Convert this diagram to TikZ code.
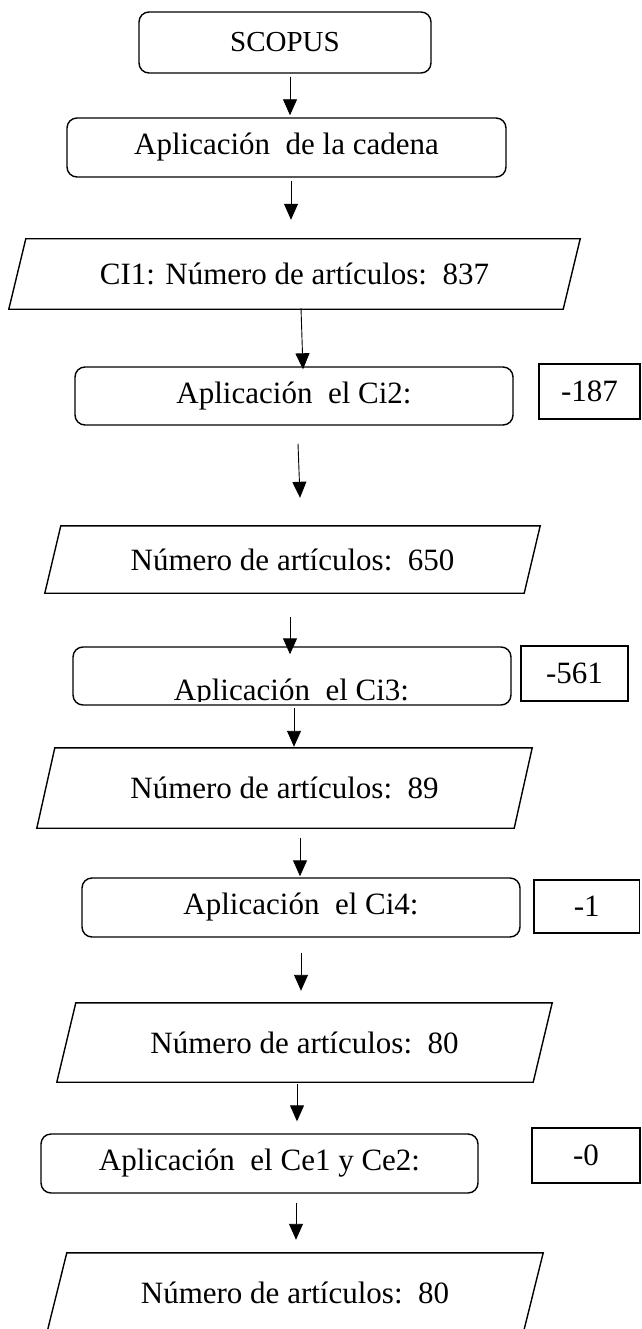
\documentclass[tikz,border=0pt]{standalone}
\usepackage{fontspec}
\setmainfont{Liberation Serif}
\usetikzlibrary{arrows.meta}
\begin{document}
\begin{tikzpicture}[x=1pt,y=-1pt,
  txt/.style={font=\fontsize{31}{37}\selectfont},
  rbox/.style={draw, line width=1.4pt, rounded corners=10pt, inner sep=0pt, txt},
  sbox/.style={draw, line width=1.4pt, inner sep=0pt, txt},
  pbox/.style={inner sep=0pt, txt},
  pline/.style={line width=1.4pt, line join=miter},
  arr/.style={line width=0.9pt, -{Triangle[length=16pt,width=14pt]}}]
\useasboundingbox (0,0) rectangle (641,1329);
\clip (0,0) rectangle (641,1329);

% main column
\node[rbox, minimum width=292pt, minimum height=61pt, font=\fontsize{29}{35}\selectfont] (scopus) at (285,42.5) {SCOPUS};
\node[rbox, minimum width=439pt, minimum height=59pt] (cad) at (286.5,147.5) {Aplicación\ \ de la cadena};

\node[pbox, minimum width=571pt, minimum height=70pt] (p1) at (294.5,274) {CI1: Número de artículos:\ \ 837};
\draw[pline] ([xshift=17pt]p1.north west) -- (p1.north east) -- ([xshift=-17pt]p1.south east) -- (p1.south west) -- cycle;

\node[rbox, minimum width=438pt, minimum height=58pt] (ci2) at (294,396) {Aplicación\ \ el Ci2:};
\node[sbox, minimum width=101pt, minimum height=55pt] (m187) at (589.5,391.5) {-187};

\node[pbox, minimum width=495pt, minimum height=67pt] (p650) at (292.5,559.5) {Número de artículos:\ \ 650};
\draw[pline] ([xshift=16pt]p650.north west) -- (p650.north east) -- ([xshift=-16pt]p650.south east) -- (p650.south west) -- cycle;

\node[rbox, minimum width=438pt, minimum height=58pt] (ci3) at (292,676) {};
\begin{scope}
  \clip (70,640) rectangle (515,701.5);
  \node[txt, anchor=base, inner sep=0pt] (ci3t) at (291.5,700) {Aplicación\ \ el Ci3:};
\end{scope}
\node[sbox, minimum width=107pt, minimum height=55pt] (m561) at (574.5,673.5) {-561};

\node[pbox, minimum width=495pt, minimum height=80pt] (p89) at (284.5,788) {Número de artículos:\ \ 89};
\draw[pline] ([xshift=18pt]p89.north west) -- (p89.north east) -- ([xshift=-18pt]p89.south east) -- (p89.south west) -- cycle;

\node[rbox, minimum width=438pt, minimum height=59pt] (ci4) at (301,907.5) {Aplicación\ \ el Ci4:};
\node[sbox, minimum width=105.5pt, minimum height=53pt] (m1) at (586.75,906.5) {-1};

\node[pbox, minimum width=495pt, minimum height=79pt] (p80) at (304.5,1042.5) {Número de artículos:\ \ 80};
\draw[pline] ([xshift=19pt]p80.north west) -- (p80.north east) -- ([xshift=-19pt]p80.south east) -- (p80.south west) -- cycle;

\node[rbox, minimum width=437pt, minimum height=59pt] (ce) at (259.5,1163.5) {Aplicación\ \ el Ce1 y Ce2:};
\node[sbox, minimum width=108pt, minimum height=55pt] (m0) at (586,1155.5) {-0};

\node[pbox, minimum width=496pt, minimum height=80pt] (pf) at (295,1293) {Número de artículos:\ \ 80};
\draw[pline] ([xshift=20pt]pf.north west) -- (pf.north east) -- ([xshift=-20pt]pf.south east) -- (pf.south west) -- cycle;

% connectors
\draw[arr] ([shift={(5,3)}]scopus.south) -- ([shift={(3.5,-2)}]cad.north);
\draw[arr] ([shift={(4.5,3)}]cad.south) -- ([shift={(-3.5,-19)}]p1.north);
\draw[arr] ([shift={(6.5,-1)}]p1.south) -- ([shift={(9,3)}]ci2.north);
\draw[arr] ([shift={(4,18)}]ci2.south) -- ([shift={(7.5,-28)}]p650.north);
\draw[arr] ([shift={(-2.5,24)}]p650.south) -- ([shift={(-2,8)}]ci3.north);
\draw[arr] ([shift={(2,2)}]ci3.south) -- ([shift={(9.5,-1)}]p89.north);
\draw[arr] ([shift={(15.5,10)}]p89.south) -- ([shift={(-1,-1)}]ci4.north);
\draw[arr] ([shift={(0,15)}]ci4.south) -- ([shift={(-3.5,-12)}]p80.north);
\draw[arr] ([shift={(-7.5,2)}]p80.south) -- ([shift={(37.5,-12)}]ce.north);
\draw[arr] ([shift={(36.5,9)}]ce.south) -- ([shift={(1,-13)}]pf.north);
\end{tikzpicture}
\end{document}
